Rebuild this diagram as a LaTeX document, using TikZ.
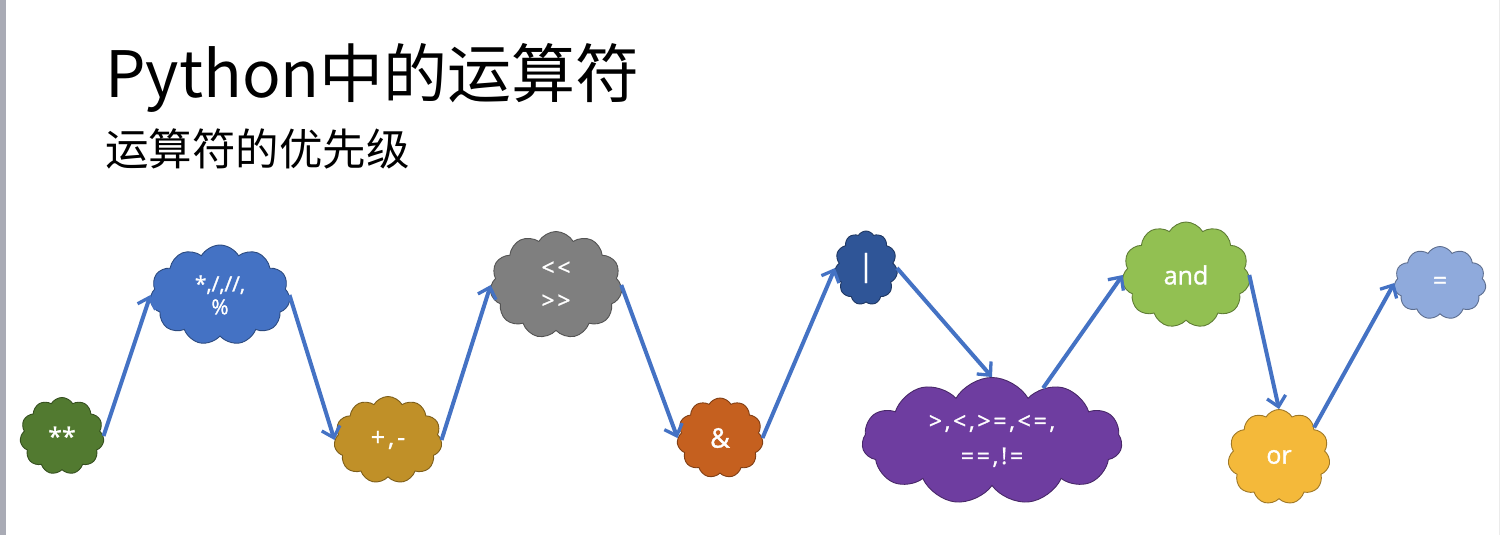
\documentclass[tikz,border=0pt]{standalone}
\usepackage{fontspec}
\usetikzlibrary{shapes.symbols,arrows.meta}
\newfontfamily\cjk{Noto Sans CJK SC}
\newfontfamily\opfont{Open Sans}[FakeBold=1.2]
\newfontfamily\opspaced{Open Sans}[LetterSpace=12,FakeBold=1.2]
\definecolor{barg}{HTML}{A9ABB5}
\definecolor{cpow}{HTML}{527A30}
\definecolor{cmul}{HTML}{4472C4}
\definecolor{cadd}{HTML}{C09028}
\definecolor{cshf}{HTML}{7F7F7F}
\definecolor{cand}{HTML}{C5601F}
\definecolor{cbor}{HTML}{2F5597}
\definecolor{ccmp}{HTML}{6E3DA0}
\definecolor{clog}{HTML}{92C052}
\definecolor{clor}{HTML}{F4B93A}
\definecolor{casg}{HTML}{8FAADC}
\definecolor{carrow}{HTML}{4472C4}
\begin{document}
\begin{tikzpicture}[x=1pt,y=-1pt,
  op/.style={cloud, cloud puffs=11, cloud puff arc=120, cloud ignores aspect,
    inner sep=0pt, line width=0.9pt, text=white, align=center,
    font=\opfont\fontsize{25}{33}\selectfont},
  opc/.style={op, fill=#1, draw=#1!65!black},
  link/.style={draw=carrow, line width=4pt,
    -{Straight Barb[length=10pt,width=19pt,line width=3.3pt]}}
]
\useasboundingbox (0,0) rectangle (1504,535);
\fill[white] (0,0) rectangle (1504,535);
\fill[barg] (0,0) rectangle (6,535);
\draw[black!8, line width=1pt] (1499,0) -- (1499,535);

\node[anchor=base west, inner sep=0pt, font=\cjk\fontsize{64}{70}\selectfont] (title) at (105,97) {Python中的运算符};
\node[anchor=base west, inner sep=0pt, font=\cjk\fontsize{43.5}{48}\selectfont] (sub) at (105,165) {运算符的优先级};

\node[opc=cpow, minimum width=84pt, minimum height=77pt] (pow) at (62,436) {**};
\node[opc=cmul, minimum width=140pt, minimum height=100pt, font=\opfont\fontsize{21}{23}\selectfont] (mul) at (220,295) {*,/,//,\\\%};
\node[opc=cadd, minimum width=108pt, minimum height=87pt, font=\opspaced\fontsize{25}{33}\selectfont] (add) at (388,440) {+,-};
\node[opc=cshf, minimum width=132pt, minimum height=107pt, font=\opspaced\fontsize{23}{33}\selectfont] (shf) at (556,285) {<<\\>>};
\node[opc=cand, minimum width=86pt, minimum height=80pt, font=\opfont\fontsize{27}{33}\selectfont] (amp) at (720,438) {\&};
\node[opc=cbor, minimum width=63pt, minimum height=74pt, font=\opfont\fontsize{30}{33}\selectfont] (bor) at (866,268) {|};
\node[opc=ccmp, minimum width=260pt, minimum height=127pt, font=\opspaced\fontsize{23}{35}\selectfont] (cmp) at (992,441) {>,<,>=,<=,\\==,!=};
\node[opc=clog, minimum width=128pt, minimum height=106pt] (land) at (1186,275) {and};
\node[opc=clor, minimum width=102pt, minimum height=95pt] (lor) at (1279,457) {or};
\node[opc=casg, minimum width=92pt, minimum height=73pt] (asg) at (1440,283) {=};

\draw[link] (pow.east) -- (mul.west);
\draw[link] (mul.east) -- (add.west);
\draw[link] (add.east) -- (shf.west);
\draw[link] (shf.east) -- (amp.west);
\draw[link] (amp.east) -- (bor.west);
\draw[link] (bor.east) -- (cmp.north);
\draw[link] (cmp.46) -- (land.west);
\draw[link] (land.east) -- (lor.north);
\draw[link] (lor.40) -- (asg.west);
\end{tikzpicture}
\end{document}
